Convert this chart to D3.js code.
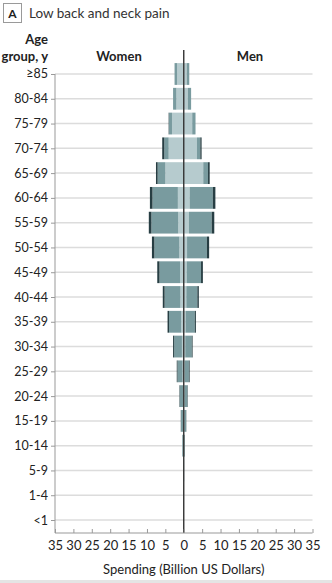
<!DOCTYPE html>
<html>
<head>
<meta charset="utf-8">
<script src="https://cdn.jsdelivr.net/npm/d3@7"></script>
<style>
  body { margin: 0; background: #fff; }
  svg { font-family: Lato, "Noto Sans", sans-serif; }
  .grid { stroke: #dcdcdc; stroke-width: 1.5; }
</style>
</head>
<body>
<svg id="chart"></svg>
<script>
// age groups, top to bottom
const ageGroups = ["≥85", "80-84", "75-79", "70-74", "65-69", "60-64", "55-59", "50-54", "45-49",
  "40-44", "35-39", "30-34", "25-29", "20-24", "15-19", "10-14", "5-9", "1-4", "<1"];

// spending, billion US dollars (inner light, middle teal, outer dark segment)
const womenLight = [1.8, 2.0, 3.2, 4.1, 5.0, 1.6, 1.5, 1.2, 1.0, 0.9, 0.7, 0.5, 0.3, 0.2, 0.15, 0.1, 0.05, 0.02, 0.01];
const womenMid   = [0.7, 0.9, 0.8, 1.2, 2.1, 6.9, 7.3, 6.8, 5.6, 4.3, 3.3, 2.1, 1.4, 0.9, 0.6, 0.3, 0.05, 0.02, 0.01];
const womenDark  = [0.0, 0.0, 0.1, 0.55, 0.45, 0.7, 0.7, 0.65, 0.6, 0.5, 0.4, 0.3, 0.2, 0.1, 0.05, 0.0, 0.0, 0.0, 0.0];
const menLight   = [0.8, 1.1, 2.3, 3.6, 5.3, 1.6, 1.4, 0.9, 0.8, 0.7, 0.5, 0.4, 0.3, 0.2, 0.15, 0.1, 0.05, 0.02, 0.01];
const menMid     = [0.7, 0.9, 0.9, 0.9, 1.3, 6.3, 6.2, 5.4, 3.9, 3.0, 2.5, 1.8, 1.1, 0.8, 0.5, 0.2, 0.05, 0.02, 0.01];
const menDark    = [0.0, 0.0, 0.0, 0.35, 0.45, 0.7, 0.7, 0.6, 0.5, 0.4, 0.3, 0.2, 0.2, 0.1, 0.05, 0.0, 0.0, 0.0, 0.0];

const segmentKeys = ["light", "mid", "dark"];
const tickValues = [-35, -30, -25, -20, -15, -10, -5, 0, 5, 10, 15, 20, 25, 30, 35];

document.addEventListener("DOMContentLoaded", function () {
  const width = 332;
  const height = 583;

  const svg = d3.select("#chart").attr("width", width).attr("height", height);

  const x = d3.scaleLinear().domain([-35, 35]).range([55, 312.5]);
  const y = d3.scalePoint().domain(ageGroups).range([61.6, 532.4]).padding(0.5);
  const barH = y.step() * 0.88;
  const axisY = 533;

  const color = d3.scaleOrdinal().domain(segmentKeys).range(["#b6cbce", "#799b9f", "#273e43"]);

  // header
  svg.append("rect")
    .attr("x", 3.5).attr("y", 3.5).attr("width", 18).attr("height", 19)
    .attr("fill", "none").attr("stroke", "#9a9a9a");
  svg.append("text")
    .attr("x", 12.5).attr("y", 18).attr("text-anchor", "middle")
    .attr("font-size", 12).attr("font-weight", "bold").attr("fill", "#222")
    .text("A");
  svg.append("text")
    .attr("x", 29).attr("y", 18)
    .attr("font-size", 13.5).attr("fill", "#333")
    .text("Low back and neck pain");

  svg.append("text")
    .attr("x", 48).attr("y", 44).attr("text-anchor", "end")
    .attr("font-size", 13).attr("font-weight", "bold").attr("fill", "#222")
    .text("Age");
  svg.append("text")
    .attr("x", 48).attr("y", 61).attr("text-anchor", "end")
    .attr("font-size", 13).attr("font-weight", "bold").attr("fill", "#222")
    .text("group, y");
  svg.append("text")
    .attr("x", 119).attr("y", 61).attr("text-anchor", "middle")
    .attr("font-size", 13).attr("font-weight", "bold").attr("fill", "#222")
    .text("Women");
  svg.append("text")
    .attr("x", 250).attr("y", 61).attr("text-anchor", "middle")
    .attr("font-size", 13).attr("font-weight", "bold").attr("fill", "#222")
    .text("Men");

  // gridlines
  svg.append("g")
    .selectAll("line")
    .data(ageGroups)
    .enter()
    .append("line")
    .attr("class", "grid")
    .attr("x1", x(-35)).attr("x2", x(35))
    .attr("y1", (d) => y(d)).attr("y2", (d) => y(d));

  // build stacked rows, women to the left (negative)
  const rows = ageGroups.map((age, i) => ({
    age: age,
    women: { light: womenLight[i], mid: womenMid[i], dark: womenDark[i] },
    men: { light: menLight[i], mid: menMid[i], dark: menDark[i] },
  }));

  const stack = d3.stack().keys(segmentKeys);
  const womenSeries = stack(rows.map((r) => r.women));
  const menSeries = stack(rows.map((r) => r.men));

  const bars = svg.append("g");

  function drawSide(series, sign) {
    bars.selectAll(null)
      .data(series)
      .enter()
      .append("g")
      .attr("fill", (s) => color(s.key))
      .selectAll("rect")
      .data((s) => s.map((d, i) => ({ d: d, age: ageGroups[i] })))
      .enter()
      .append("rect")
      .attr("x", (p) => Math.min(x(sign * p.d[0]), x(sign * p.d[1])))
      .attr("width", (p) => Math.abs(x(sign * p.d[1]) - x(sign * p.d[0])))
      .attr("y", (p) => y(p.age) - barH / 2)
      .attr("height", barH);
  }
  drawSide(womenSeries, -1);
  drawSide(menSeries, 1);

  // centre line
  svg.append("line")
    .attr("x1", x(0)).attr("x2", x(0))
    .attr("y1", 50).attr("y2", axisY)
    .attr("stroke", "#333").attr("stroke-width", 1.4);

  // left axis
  const yAxis = svg.append("g")
    .attr("transform", "translate(" + x(-35) + ",0)")
    .call(d3.axisLeft(y).tickSize(4).tickPadding(3));
  yAxis.select(".domain").remove();
  yAxis.append("line")
    .attr("x1", 0).attr("x2", 0)
    .attr("y1", y(ageGroups[0])).attr("y2", axisY)
    .attr("stroke", "#999");
  yAxis.selectAll(".tick line").attr("stroke", "#999");
  yAxis.selectAll(".tick text")
    .attr("font-family", "Lato, 'Noto Sans', sans-serif")
    .attr("font-size", 12.5).attr("fill", "#222");

  // bottom axis
  const xAxis = svg.append("g")
    .attr("transform", "translate(0," + axisY + ")")
    .call(d3.axisBottom(x).tickValues(tickValues).tickSize(4).tickPadding(4)
      .tickFormat((d) => Math.abs(d)));
  xAxis.select(".domain").attr("stroke", "#999").attr("d", "M" + x(-35) + ",0H" + x(35));
  xAxis.selectAll(".tick line").attr("stroke", "#999").attr("y1", -4).attr("y2", 0);
  xAxis.selectAll(".tick text")
    .attr("font-family", "Lato, 'Noto Sans', sans-serif")
    .attr("font-size", 13).attr("fill", "#222");

  svg.append("text")
    .attr("x", x(0)).attr("y", 574).attr("text-anchor", "middle")
    .attr("font-size", 13).attr("fill", "#222")
    .text("Spending (Billion US Dollars)");

  svg.append("rect")
    .attr("x", 0).attr("y", 580).attr("width", width).attr("height", 3)
    .attr("fill", "#e4e4e4");
});
</script>
</body>
</html>
